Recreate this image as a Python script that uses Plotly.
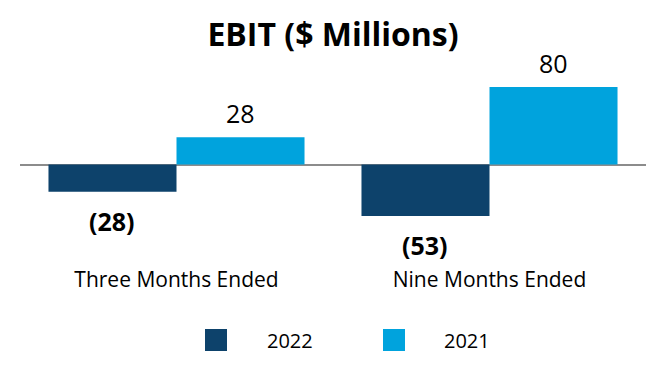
import plotly.graph_objects as go

categories = ["Three Months Ended", "Nine Months Ended"]
series_names = ["2022", "2021"]
values_2022 = [-28, -53]
values_2021 = [28, 80]
colors = ["#0D426B", "#00A3DD"]

BARGAP = 0.182
half = (1 - BARGAP) / 2  # width of one bar in category units

def fmt(v):
    return f"({abs(v)})" if v < 0 else f"{v}"

fig = go.Figure()
for name, vals, col in zip(series_names, [values_2022, values_2021], colors):
    fig.add_trace(go.Bar(x=categories, y=vals, name=name, marker_color=col,
                         marker_line_width=0, showlegend=False, hoverinfo="skip"))

annotations = []
for k, vals in enumerate([values_2022, values_2021]):
    off = -half / 2 if k == 0 else half / 2
    for i, v in enumerate(vals):
        neg = v < 0
        annotations.append(dict(
            x=i + off, y=v, xref="x", yref="y", text=fmt(v), showarrow=False,
            yanchor="top" if neg else "bottom",
            yshift=-10 if neg else 5,
            font=dict(family="Open Sans", size=25, color="#000000",
                      weight="bold" if neg else "normal"),
        ))

# manual legend (paper coordinates)
PL, PW, PB, PH = 20, 626, 265, 185
leg_y = 340
leg_items = [(205, 265), (383, 442)]
shapes = []
for (mx, tx), name, col in zip(leg_items, series_names, colors):
    shapes.append(dict(type="rect", xref="paper", yref="paper",
                       x0=(mx - PL) / PW, x1=(mx - PL + 22) / PW,
                       y0=(PB - (leg_y + 11)) / PH, y1=(PB - (leg_y - 11)) / PH,
                       fillcolor=col, line_width=0, layer="above"))
    annotations.append(dict(x=(tx - PL) / PW, y=(PB - leg_y) / PH, xref="paper", yref="paper",
                            text=name, showarrow=False, xanchor="left", yanchor="middle",
                            font=dict(family="Open Sans", size=20, color="#000000")))

fig.update_layout(
    width=666, height=380,
    margin=dict(l=20, r=20, t=80, b=115),
    paper_bgcolor="white", plot_bgcolor="white",
    barmode="group", bargap=BARGAP, bargroupgap=0,
    title=dict(text="<b>EBIT ($ Millions)</b>", x=0.5, xanchor="center",
               y=1 - 35 / 380, yref="container", yanchor="middle",
               font=dict(family="Open Sans", size=32, color="#000000")),
    xaxis=dict(showgrid=False, showline=False, ticks="", range=[-0.5, 1.5],
               fixedrange=True,
               tickfont=dict(family="Open Sans", size=21, color="#000000")),
    yaxis=dict(range=[-103.6, 87.1], showgrid=False, showticklabels=False,
               fixedrange=True,
               zeroline=True, zerolinecolor="#8C8C8C", zerolinewidth=2, showline=False),
    annotations=annotations, shapes=shapes,
    showlegend=False,
)

fig.write_html("out.html", config={"displayModeBar": False},
               post_script="document.body.style.margin='0px';")
